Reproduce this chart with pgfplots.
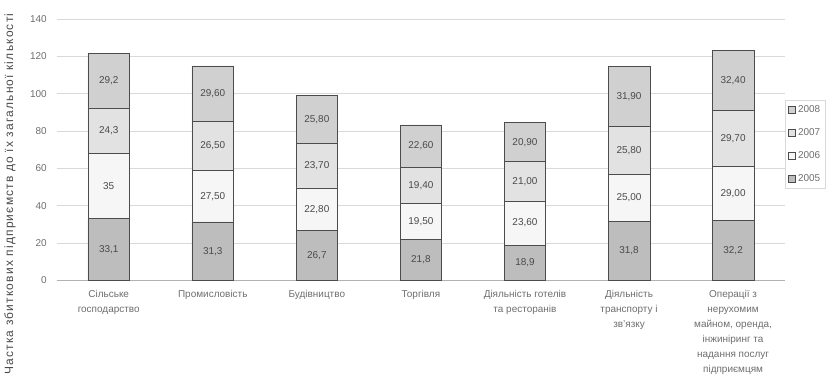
\documentclass[border=0pt]{standalone}
\usepackage{fontspec}
\setmainfont{Liberation Sans}
\newfontfamily\spaced[LetterSpace=10]{Liberation Sans}
\usepackage{pgfplots}
\usepackage{pgfplotstable}
\pgfplotsset{compat=1.18}
\definecolor{cA}{HTML}{BDBDBD}
\definecolor{cB}{HTML}{F6F6F6}
\definecolor{cC}{HTML}{E2E2E2}
\definecolor{cD}{HTML}{D0D0D0}
\definecolor{txt}{HTML}{6E6E6E}
\definecolor{dtxt}{HTML}{4A4A4A}
\pgfplotstableread{
x y lab
0 33.1 33,1
1 31.3 31,3
2 26.7 26,7
3 21.8 21,8
4 18.9 18,9
5 31.8 31,8
6 32.2 32,2
}\tA
\pgfplotstableread{
x y lab
0 35.0 35
1 27.5 27,50
2 22.8 22,80
3 19.5 19,50
4 23.6 23,60
5 25.0 25,00
6 29.0 29,00
}\tB
\pgfplotstableread{
x y lab
0 24.3 24,3
1 26.5 26,50
2 23.7 23,70
3 19.4 19,40
4 21.0 21,00
5 25.8 25,80
6 29.7 29,70
}\tC
\pgfplotstableread{
x y lab
0 29.2 29,2
1 29.6 29,60
2 25.8 25,80
3 22.6 22,60
4 20.9 20,90
5 31.9 31,90
6 32.4 32,40
}\tD
\begin{document}
\begin{tikzpicture}
\begin{axis}[
  scale only axis,
  width=547.5pt, height=196.5pt,
  ybar stacked, bar width=0.40,
  xmin=-0.5, xmax=6.5, ymin=0, ymax=140,
  ytick={0,20,...,140},
  xtick={0,...,6},
  xticklabels={{Сільське\\господарство},{Промисловість},{Будівництво},{Торгівля},{Діяльність готелів\\та ресторанів},{Діяльність\\транспорту і\\зв'язку},{Операції з\\нерухомим\\майном, оренда,\\інжиніринг та\\надання послуг\\підприємцям}},
  xticklabel style={align=center, font=\fontsize{7.5}{11.25}\selectfont, text=txt, anchor=north, yshift=-4pt},
  yticklabel style={font=\fontsize{7.5}{9}\selectfont, text=txt, xshift=-4pt},
  /pgf/number format/assume math mode=true,
  major tick length=0pt,
  axis x line*=bottom, axis y line*=left,
  x axis line style={draw=gray!60},
  y axis line style={draw=none},
  ymajorgrids, grid style={draw=gray!30, line width=0.6pt},
  ylabel={Частка збиткових підприємств до їх загальної кількості},
  ylabel style={at={(axis description cs:-0.064,0.33)}, anchor=center, rotate=0, font=\spaced\fontsize{9}{10}\selectfont, text=dtxt},
  point meta=explicit symbolic,
  nodes near coords,
  nodes near coords style={font=\fontsize{7.5}{9}\selectfont, text=dtxt, anchor=center},
  every axis plot/.append style={draw=black!70, line width=0.5pt},
  area legend,
  reverse legend,
  legend style={at={(axis description cs:1.0,0.69)}, anchor=north west, draw=gray!30, font=\fontsize{7.5}{9}\selectfont, text=txt, row sep=6.5pt, inner sep=2pt},
  legend image code/.code={\draw[#1] (0pt,-2.5pt) rectangle (5pt,2.5pt);},
  clip=false,
]
\addplot[fill=cA] table[x=x,y=y,meta=lab]{\tA};
\addplot[fill=cB] table[x=x,y=y,meta=lab]{\tB};
\addplot[fill=cC] table[x=x,y=y,meta=lab]{\tC};
\addplot[fill=cD] table[x=x,y=y,meta=lab]{\tD};
\legend{2005,2006,2007,2008}
\coordinate (bl) at (rel axis cs:0,0);
\coordinate (tr) at (rel axis cs:1,1);
\end{axis}
\path[use as bounding box] ([xshift=-41.25pt,yshift=-81.75pt]bl) rectangle ([xshift=41.25pt,yshift=14.25pt]tr);
\end{tikzpicture}
\end{document}
